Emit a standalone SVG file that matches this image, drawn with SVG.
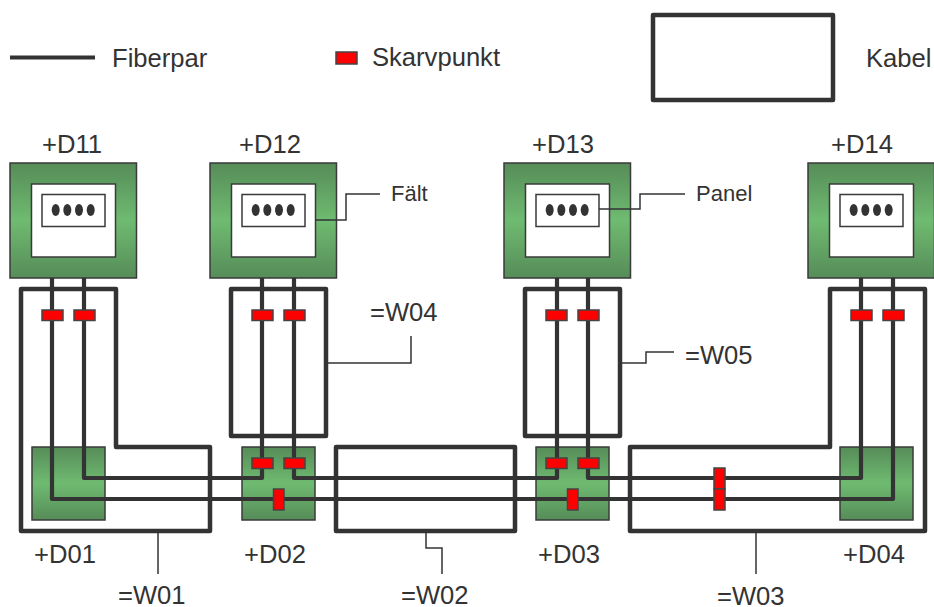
<svg xmlns="http://www.w3.org/2000/svg" xmlns:xlink="http://www.w3.org/1999/xlink" width="934" height="607" viewBox="0 0 934 607">
<style>
text{font-family:"Liberation Sans",Arial,sans-serif;fill:#333}
.t{font-size:25.600px}
.s{font-size:22px}
.box{fill:url(#g);stroke:#3a3a3a;stroke-width:1.500}
.w{fill:#fff;stroke:#3a3a3a;stroke-width:1.500}
.d{fill:#333}
.f{fill:none;stroke:#333;stroke-width:4.200;stroke-linejoin:round}
.c{fill:none;stroke:#333;stroke-width:4.500;stroke-linejoin:round}
.l{fill:none;stroke:#333;stroke-width:1.500}
.r{fill:#f00;stroke:#444;stroke-width:1.500}
</style>
<defs>
<linearGradient id="g" x1="0" y1="0" x2="0" y2="1">
<stop offset="0" stop-color="#568c58"/><stop offset="0.5" stop-color="#6fbb71"/><stop offset="1" stop-color="#568c58"/>
</linearGradient>
<g id="panel">
<rect class="box" width="126.500" height="115"/>
<rect class="w" x="21.500" y="21" width="84" height="73"/>
<rect class="w" x="32" y="31.500" width="63" height="32"/>
<ellipse class="d" cx="45.700" cy="47" rx="4" ry="6"/><ellipse class="d" cx="57.300" cy="47" rx="4" ry="6"/><ellipse class="d" cx="69" cy="47" rx="4" ry="6"/><ellipse class="d" cx="80.700" cy="47" rx="4" ry="6"/>
</g>
</defs>

<g id="legend">
<line x1="10" y1="57.500" x2="95" y2="57.500" class="f"/>
<text class="t" x="112" y="67">Fiberpar</text>
<rect class="r" x="336" y="52" width="21" height="12"/>
<text class="t" x="372" y="66">Skarvpunkt</text>
<rect x="653" y="15" width="180" height="85" class="c"/>
<text class="t" x="866" y="67">Kabel</text>
</g>

<g id="D11"><use xlink:href="#panel" x="10" y="163"/><text class="t" x="42" y="153">+D11</text></g>
<g id="D12"><use xlink:href="#panel" x="210" y="163"/><text class="t" x="239" y="153">+D12</text></g>
<g id="D13"><use xlink:href="#panel" x="504" y="163"/><text class="t" x="532" y="153">+D13</text></g>
<g id="D14"><use xlink:href="#panel" x="808" y="163"/><text class="t" x="831" y="153">+D14</text></g>

<g id="D01"><rect class="box" x="32" y="447" width="73" height="73"/><text class="t" x="34" y="563">+D01</text></g>
<g id="D02"><rect class="box" x="242" y="447" width="73" height="73"/><text class="t" x="244" y="563">+D02</text></g>
<g id="D03"><rect class="box" x="536" y="447" width="73" height="73"/><text class="t" x="538" y="563">+D03</text></g>
<g id="D04"><rect class="box" x="840" y="447" width="73" height="73"/><text class="t" x="843" y="563">+D04</text></g>

<g id="connectors">
<path class="f" d="M52 278V499H893V278"/>
<path class="f" d="M84 278V478H262V278"/>
<path class="f" d="M294 278V478H557V278"/>
<path class="f" d="M588 278V478H861V278"/>
<path class="c" d="M21 289H116V447H210V531H21Z"/>
<rect class="c" x="231" y="289" width="95" height="147"/>
<rect class="c" x="525" y="289" width="95" height="147"/>
<rect class="c" x="336" y="447" width="179" height="84"/>
<path class="c" d="M830 289H925V531H630V447H830Z"/>
<path class="l" d="M315 220H346V194H380"/>
<path class="l" d="M599 209H640V194H685"/>
<path class="l" d="M326 363H411V336"/>
<path class="l" d="M620 363H646V352H674"/>
<path class="l" d="M158 531V574"/>
<path class="l" d="M426 531V548H442V574"/>
<path class="l" d="M756 531V574"/>
</g>

<g id="splices">
<rect class="r" x="42" y="310" width="21" height="10.500"/>
<rect class="r" x="74" y="310" width="21" height="10.500"/>
<rect class="r" x="252" y="310" width="21" height="10.500"/>
<rect class="r" x="284" y="310" width="21" height="10.500"/>
<rect class="r" x="546" y="310" width="21" height="10.500"/>
<rect class="r" x="578" y="310" width="21" height="10.500"/>
<rect class="r" x="851" y="310" width="21" height="10.500"/>
<rect class="r" x="883" y="310" width="21" height="10.500"/>
<rect class="r" x="252" y="458" width="21" height="10.500"/>
<rect class="r" x="284" y="458" width="21" height="10.500"/>
<rect class="r" x="546" y="458" width="21" height="10.500"/>
<rect class="r" x="578" y="458" width="21" height="10.500"/>
<rect class="r" x="273.500" y="489" width="10.500" height="21"/>
<rect class="r" x="567.500" y="489" width="10.500" height="21"/>
<rect class="r" x="714" y="468" width="11" height="21"/>
<rect class="r" x="714" y="489" width="11" height="21"/>
</g>

<g id="labels">
<text class="s" x="391" y="201">Fält</text>
<text class="s" x="696" y="201">Panel</text>
<text class="t" x="370" y="321">=W04</text>
<text class="t" x="685" y="364">=W05</text>
<text class="t" x="118" y="604">=W01</text>
<text class="t" x="401" y="604">=W02</text>
<text class="t" x="717" y="605">=W03</text>
</g>
</svg>
